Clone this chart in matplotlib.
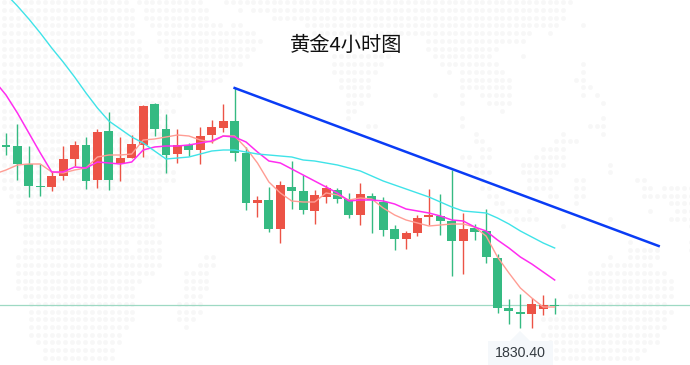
import numpy as np
import matplotlib
matplotlib.use('Agg')
import matplotlib.pyplot as plt
from matplotlib.patches import Polygon, Rectangle

plt.rcParams['font.family'] = ['Noto Sans CJK SC', 'DejaVu Sans']

title = '黄金4小时图'
last_label = '1830.40'
last_price = 1830.4

opens = [1910.4, 1909.9, 1900.9, 1889.9, 1889.4, 1894.9, 1903.4, 1910.4, 1892.9, 1917.4,
         1901.4, 1903.9, 1910.4, 1930.9, 1918.4, 1905.9, 1910.4, 1907.9, 1915.4, 1918.9,
         1922.4, 1906.4, 1881.4, 1882.9, 1868.4, 1889.4, 1887.4, 1877.4, 1884.4, 1887.9,
         1883.4, 1875.4, 1884.9, 1881.9, 1868.4, 1863.4, 1866.4, 1874.4, 1874.9, 1872.4,
         1862.4, 1868.9, 1867.4, 1853.9, 1828.9, 1826.9, 1825.9, 1828.4, 1830.4]
closes = [1909.4, 1900.9, 1889.9, 1889.4, 1894.9, 1903.4, 1910.4, 1892.4, 1916.9, 1892.9,
          1903.9, 1910.9, 1929.9, 1918.4, 1905.4, 1910.4, 1907.9, 1914.9, 1919.4, 1922.4,
          1906.4, 1881.4, 1882.9, 1868.4, 1890.4, 1887.4, 1877.9, 1885.4, 1888.9, 1883.4,
          1875.4, 1885.9, 1882.9, 1867.9, 1863.4, 1866.4, 1873.9, 1875.4, 1872.4, 1862.4,
          1868.4, 1866.9, 1854.4, 1828.9, 1827.4, 1825.9, 1830.9, 1830.4, 1829.9]
highs = [1916.4, 1920.9, 1909.9, 1900.9, 1897.4, 1909.9, 1912.4, 1914.4, 1918.4, 1926.9,
         1914.4, 1915.4, 1930.4, 1931.4, 1925.9, 1918.4, 1911.4, 1919.4, 1922.9, 1930.9,
         1938.9, 1909.4, 1884.9, 1889.4, 1892.4, 1902.4, 1895.4, 1887.9, 1890.4, 1888.9,
         1886.4, 1891.4, 1886.4, 1884.4, 1870.4, 1867.4, 1875.4, 1888.4, 1885.9, 1897.9,
         1876.4, 1870.9, 1878.4, 1855.9, 1833.4, 1835.9, 1833.9, 1835.4, 1833.9]
lows = [1905.4, 1892.9, 1884.4, 1884.9, 1887.4, 1892.9, 1899.9, 1888.4, 1888.9, 1887.9,
        1892.4, 1903.9, 1904.4, 1914.9, 1896.4, 1901.4, 1904.9, 1900.9, 1911.4, 1916.9,
        1902.4, 1877.9, 1874.4, 1866.9, 1861.4, 1878.4, 1875.9, 1870.9, 1881.4, 1881.4,
        1873.9, 1870.4, 1866.4, 1864.9, 1857.9, 1858.4, 1864.9, 1870.4, 1865.4, 1844.9,
        1845.9, 1862.9, 1851.4, 1826.4, 1820.9, 1818.9, 1818.9, 1825.4, 1825.9]

# moving averages start one bar before the first visible candle
ma_slow = [1992.9, 1985.9, 1979.9, 1973.4, 1966.4, 1958.9, 1951.9, 1944.4, 1936.4, 1928.9,
           1922.4, 1918.4, 1914.4, 1911.4, 1907.4, 1903.4, 1903.9, 1904.4, 1905.9, 1907.4,
           1907.9, 1907.9, 1906.9, 1905.9, 1905.4, 1904.9, 1904.4, 1902.9, 1902.4, 1901.4,
           1900.4, 1898.9, 1897.4, 1894.9, 1892.4, 1890.4, 1888.4, 1886.4, 1884.4, 1881.9,
           1879.4, 1877.4, 1876.9, 1876.4, 1873.9, 1870.9, 1867.4, 1864.4, 1861.4, 1858.9]
ma_mid = [1942.4, 1935.4, 1926.4, 1916.4, 1906.4, 1896.9, 1896.9, 1899.4, 1898.9, 1901.9,
          1901.4, 1900.9, 1901.9, 1907.9, 1909.4, 1909.9, 1909.9, 1910.4, 1911.4, 1912.4,
          1914.9, 1914.4, 1911.9, 1906.9, 1902.4, 1901.4, 1898.4, 1895.4, 1892.4, 1889.4,
          1886.4, 1882.4, 1882.9, 1882.9, 1882.4, 1880.9, 1878.4, 1877.4, 1876.4, 1874.9,
          1872.9, 1872.4, 1869.4, 1867.4, 1862.9, 1858.9, 1854.4, 1850.9, 1846.9, 1842.9]
ma_fast = [1895.9, 1897.9, 1900.4, 1900.9, 1900.9, 1896.9, 1896.4, 1897.9, 1898.9, 1904.4,
           1905.4, 1905.4, 1905.9, 1912.9, 1913.4, 1914.4, 1915.4, 1914.9, 1912.9, 1911.9,
           1914.9, 1914.9, 1908.9, 1901.4, 1891.9, 1886.4, 1882.4, 1881.9, 1881.9, 1886.4,
           1885.4, 1882.9, 1883.9, 1883.4, 1878.9, 1875.4, 1872.9, 1871.4, 1869.9, 1870.4,
           1870.9, 1870.9, 1869.4, 1864.9, 1854.4, 1846.4, 1838.9, 1833.9, 1829.4, 1829.4]

trend_bars = [20, 57.1]
trend_prices = [1938.9, 1859.9]

# background dot map: (row, first column, last column)
dot_spans = [
    (0, 0, 18), (0, 20, 29), (0, 33, 84),
    (1, 0, 19), (1, 21, 30), (1, 35, 35), (1, 37, 83),
    (2, 0, 19), (2, 21, 30), (2, 40, 42), (2, 43, 83),
    (3, 0, 19), (3, 22, 32), (3, 34, 35), (3, 45, 82), (3, 86, 86),
    (4, 0, 19), (4, 23, 37), (4, 46, 78), (4, 81, 81),
    (5, 0, 20), (5, 23, 38), (5, 63, 77),
    (6, 0, 20), (6, 24, 37), (6, 63, 73),
    (7, 0, 21), (7, 24, 36), (7, 49, 57), (7, 64, 72), (7, 77, 77),
    (8, 0, 21), (8, 25, 35), (8, 49, 56), (8, 65, 73), (8, 86, 86),
    (9, 0, 21), (9, 25, 33), (9, 49, 55), (9, 66, 66), (9, 68, 74), (9, 86, 86),
    (10, 0, 23), (10, 26, 32), (10, 50, 54), (10, 68, 75), (10, 85, 86),
    (11, 0, 23), (11, 26, 29), (11, 50, 54), (11, 68, 75), (11, 86, 87),
    (12, 0, 26), (12, 51, 54), (12, 64, 64), (12, 68, 68), (12, 71, 75), (12, 86, 86), (12, 88, 88),
    (13, 0, 24), (13, 51, 53), (13, 68, 68), (13, 72, 75), (13, 89, 89),
    (14, 0, 25), (14, 51, 52), (14, 74, 74),
    (15, 0, 24), (15, 51, 51), (15, 68, 68), (15, 89, 89),
    (16, 0, 24), (16, 54, 55), (16, 68, 68), (16, 87, 89),
    (17, 0, 24), (17, 70, 70), (17, 83, 83), (17, 89, 89),
    (18, 0, 24), (18, 70, 71), (18, 82, 85),
    (19, 0, 24), (19, 71, 72), (19, 80, 83),
    (20, 0, 24), (20, 68, 69), (20, 71, 72), (20, 79, 83),
    (21, 0, 24), (21, 69, 71), (21, 77, 83), (21, 90, 90),
    (22, 0, 25), (22, 70, 72), (22, 77, 82), (22, 90, 90),
    (23, 0, 25), (23, 71, 71), (23, 78, 81), (23, 85, 86), (23, 94, 95),
    (24, 0, 23), (24, 71, 72), (24, 78, 81), (24, 85, 86), (24, 95, 96), (24, 98, 102),
    (25, 1, 23), (25, 72, 73), (25, 81, 82), (25, 85, 86), (25, 95, 102),
    (26, 2, 14), (26, 16, 23), (26, 73, 74), (26, 85, 85), (26, 99, 102),
    (27, 2, 14), (27, 16, 22), (27, 74, 76), (27, 78, 78), (27, 96, 96), (27, 100, 102),
    (28, 3, 22), (28, 76, 79), (28, 90, 90), (28, 99, 102),
    (29, 3, 22), (29, 83, 83), (29, 102, 102),
    (30, 3, 23),
    (31, 3, 18), (31, 20, 23), (31, 93, 93), (31, 102, 102),
    (32, 3, 18), (32, 20, 23), (32, 93, 97), (32, 102, 102),
    (33, 2, 23), (33, 30, 31), (33, 90, 90), (33, 93, 97),
    (34, 2, 23), (34, 29, 31), (34, 89, 96),
    (35, 2, 22), (35, 27, 30), (35, 87, 98),
    (36, 2, 20), (36, 27, 30), (36, 87, 99),
    (37, 2, 19), (37, 27, 30), (37, 87, 99),
    (38, 3, 19), (38, 27, 29), (38, 84, 99),
    (39, 4, 19), (39, 26, 29), (39, 84, 98),
    (40, 4, 19), (40, 26, 29), (40, 83, 99),
    (41, 4, 19), (41, 26, 28), (41, 80, 98),
    (42, 4, 18), (42, 27, 27), (42, 81, 98),
    (43, 4, 17), (43, 80, 97),
    (44, 5, 17), (44, 81, 97),
    (45, 6, 16), (45, 82, 95),
    (46, 6, 16), (46, 82, 94),
]

green = '#35ba82'
red = '#ec5346'

fig = plt.figure(figsize=(6.9, 3.65), dpi=100)

# pixel axes for the dot map and the price tag
pix = fig.add_axes([0, 0, 1, 1], zorder=0)
pix.set_xlim(0, 690)
pix.set_ylim(365, 0)
pix.axis('off')
dx, dy = [], []
for row, c0, c1 in dot_spans:
    for c in range(c0, c1 + 1):
        dx.append(4.4 + 6.73 * c)
        dy.append(2.3 + 7.73 * row)
pix.scatter(dx, dy, s=12, color='#f7f7f7', linewidths=0)

ax = fig.add_axes([0, 0, 1, 1], zorder=1)
ax.patch.set_alpha(0)
ax.set_xlim(-0.525, 59.84)
ax.set_ylim(1800.4, 1982.9)
ax.axis('off')

ax.axhline(last_price, color='#9ed9c3', linewidth=0.9, zorder=1)

opens = np.array(opens)
closes = np.array(closes)
bars = np.arange(len(opens))
colors = [red if c > o else green for o, c in zip(opens, closes)]
ax.vlines(bars, lows, highs, colors=colors, linewidth=1.0, zorder=2)
ax.bar(bars, np.abs(closes - opens), bottom=np.minimum(opens, closes), width=0.78,
       color=colors, linewidth=0, zorder=3)

ma_bars = np.arange(-1, len(opens))
ax.plot(ma_bars, ma_fast, color='#ff9d94', linewidth=1.0, zorder=4)
ax.plot(ma_bars, ma_mid, color='#ff2df0', linewidth=1.1, zorder=5)
ax.plot(ma_bars, ma_slow, color='#3fe3e8', linewidth=1.0, zorder=5)
ax.plot(trend_bars, trend_prices, color='#0a3cf5', linewidth=1.8, zorder=6)

# price tag under the last low
ax.add_patch(Rectangle((488, 341), 65, 24, transform=pix.transData, color='#f5f8fb',
                       linewidth=0, zorder=7))
ax.add_patch(Polygon([(510, 341), (520, 331), (530, 341)], transform=pix.transData,
                     color='#f5f8fb', linewidth=0, zorder=7))
ax.text(520.5, 353, last_label, transform=pix.transData, ha='center', va='center',
        fontsize=10.2, color='#333a40', family=['Liberation Sans'], zorder=8)

ax.text(346.5, 45, title, transform=pix.transData, ha='center', va='center',
        fontsize=14.6, color='#111111', zorder=8)

fig.savefig('out.png', dpi=100)
